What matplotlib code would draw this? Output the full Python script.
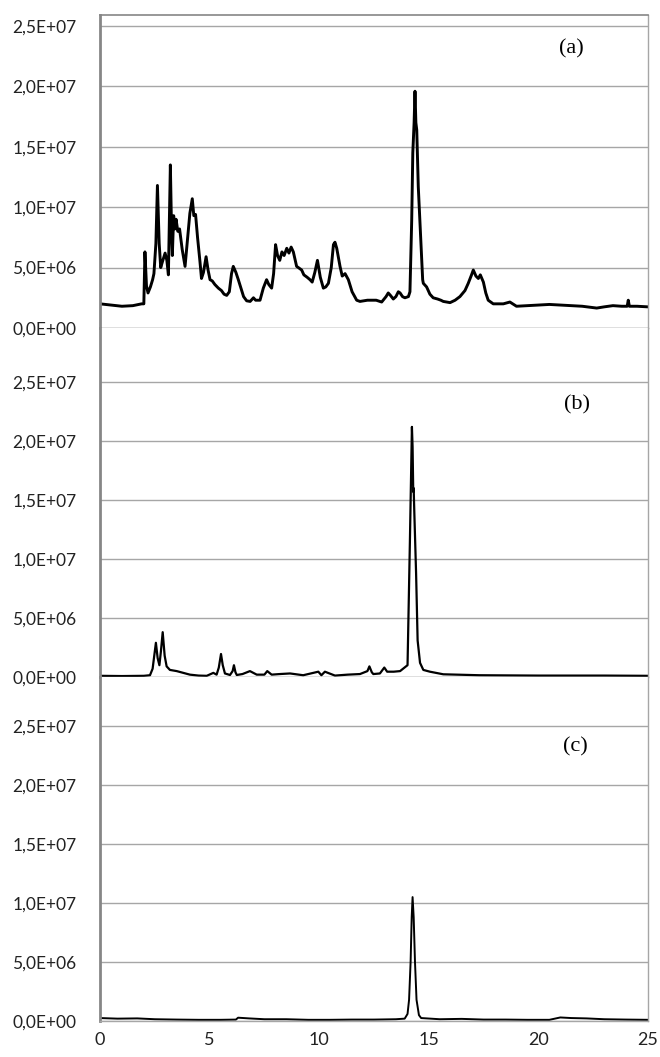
import matplotlib
matplotlib.use("Agg")
import matplotlib.pyplot as plt
from matplotlib.ticker import FuncFormatter

# ---- data (time in min, intensity in 1e6 counts) ----
t_a = [0.0, 0.5, 1.0, 1.5, 1.9, 2.0, 2.05, 2.12, 2.19, 2.3, 2.4, 2.46, 2.55, 2.62, 2.7, 2.77,
       2.85, 2.97, 3.05, 3.12, 3.21, 3.27, 3.30, 3.36, 3.42, 3.47, 3.55, 3.63, 3.75, 3.88, 4.0,
       4.1, 4.21, 4.28, 4.36, 4.45, 4.56, 4.63, 4.72, 4.84, 4.93, 5.02, 5.12, 5.24, 5.4, 5.54,
       5.66, 5.78, 5.9, 6.0, 6.08, 6.2, 6.31, 6.45, 6.55, 6.69, 6.85, 7.0, 7.1, 7.3, 7.45, 7.6,
       7.7, 7.83, 7.92, 8.01, 8.1, 8.2, 8.3, 8.4, 8.52, 8.62, 8.72, 8.82, 8.97, 9.05, 9.2, 9.3,
       9.45, 9.58, 9.68, 9.8, 9.92, 10.05, 10.19, 10.3, 10.42, 10.55, 10.65, 10.72, 10.8, 10.95,
       11.05, 11.18, 11.33, 11.5, 11.71, 11.86, 12.2, 12.6, 12.85, 13.05, 13.15, 13.25, 13.38,
       13.5, 13.61, 13.69, 13.8, 13.91, 14.07, 14.14, 14.22, 14.27, 14.33, 14.37, 14.41, 14.45,
       14.52, 14.63, 14.72, 14.75, 14.9, 15.05, 15.2, 15.4, 15.55, 15.66, 15.97, 16.2, 16.42,
       16.65, 16.8, 16.95, 17.03, 17.15, 17.26, 17.35, 17.49, 17.6, 17.71, 17.94, 18.4, 18.7,
       19.0, 19.5, 20.0, 20.5, 21.0, 21.5, 22.0, 22.66, 23.0, 23.4, 23.8, 24.05, 24.1, 24.15,
       24.5, 25.0]
i_a = [2.0, 1.9, 1.8, 1.85, 2.0, 2.0, 6.3, 3.5, 2.9, 3.4, 4.0, 4.5, 7.0, 11.8, 7.0, 5.0,
       5.5, 6.2, 5.6, 4.4, 13.5, 7.5, 6.0, 9.3, 8.2, 9.0, 8.0, 8.2, 6.5, 5.1, 7.5,
       9.5, 10.7, 9.3, 9.4, 7.5, 5.5, 4.1, 4.6, 5.9, 4.8, 4.0, 3.9, 3.6, 3.3, 3.1,
       2.8, 2.7, 3.0, 4.5, 5.1, 4.6, 4.0, 3.2, 2.6, 2.25, 2.2, 2.5, 2.3, 2.3, 3.3, 4.0,
       3.6, 3.3, 4.5, 6.9, 6.0, 5.6, 6.3, 6.0, 6.6, 6.2, 6.7, 6.3, 5.1, 5.0, 4.8, 4.4,
       4.2, 4.0, 3.8, 4.6, 5.6, 4.2, 3.3, 3.4, 3.7, 5.0, 6.9, 7.1, 6.6, 5.1,
       4.3, 4.5, 4.0, 3.0, 2.3, 2.2, 2.3, 2.3, 2.15, 2.6, 2.9, 2.7, 2.4,
       2.6, 3.0, 2.9, 2.6, 2.5, 2.6, 3.0, 8.9, 14.5, 17.0, 19.6, 17.0, 16.4,
       11.7, 7.5, 4.0, 3.7, 3.4, 2.8, 2.5, 2.4, 2.3, 2.2, 2.1, 2.3, 2.6,
       3.1, 3.7, 4.4, 4.8, 4.3, 4.1, 4.4, 3.8, 2.9, 2.3, 2.0, 2.0, 2.15,
       1.8, 1.85, 1.9, 1.95, 1.9, 1.85, 1.8, 1.65, 1.75, 1.85, 1.8, 1.8, 2.3, 1.8,
       1.8, 1.75]

t_b = [0, 1, 2, 2.28, 2.4, 2.55, 2.63, 2.71, 2.78, 2.86, 2.95, 3.04, 3.19, 3.5, 3.8, 4.1,
       4.5, 4.87, 5.17, 5.32, 5.42, 5.52, 5.6, 5.7, 5.93, 6.05, 6.11, 6.18, 6.24, 6.5, 6.84,
       7.15, 7.5, 7.63, 7.83, 8.2, 8.67, 9.27, 9.96, 10.1, 10.26, 10.72, 11.3, 11.86, 12.2,
       12.29, 12.4, 12.47, 12.77, 12.97, 13.1, 13.4, 13.69, 13.96, 14.03, 14.14, 14.23, 14.26,
       14.29, 14.31, 14.34, 14.42, 14.49, 14.6, 14.75, 15.05, 15.66, 17.3, 20, 23, 25]
i_b = [0.1, 0.08, 0.1, 0.15, 0.7, 2.9, 1.6, 1.0, 2.2, 3.8, 1.8, 0.9, 0.6, 0.5, 0.35, 0.2,
       0.12, 0.1, 0.35, 0.2, 0.8, 1.95, 1.0, 0.3, 0.17, 0.5, 1.0, 0.4, 0.17, 0.25, 0.5,
       0.2, 0.2, 0.5, 0.2, 0.25, 0.3, 0.15, 0.45, 0.15, 0.45, 0.12, 0.2, 0.25, 0.5,
       0.9, 0.4, 0.25, 0.3, 0.8, 0.45, 0.45, 0.5, 0.9, 1.0, 11.7, 21.2, 19.5,
       15.7, 16.0, 13.9, 8.8, 3.1, 1.2, 0.6, 0.45, 0.23, 0.15, 0.12, 0.12, 0.1]

t_c = [0, 0.8, 1.7, 2.5, 3.5, 4.5, 5.5, 6.2, 6.3, 6.8, 7.5, 8.5, 9.5, 10.5, 11.5, 12.5,
       13.5, 13.9, 14.03, 14.1, 14.17, 14.22, 14.26, 14.31, 14.37, 14.44, 14.55, 14.65,
       15.5, 16.5, 17.5, 18.5, 19.5, 20.5, 21.0, 21.5, 22.2, 23, 24, 25]
i_c = [0.25, 0.2, 0.22, 0.15, 0.12, 0.1, 0.1, 0.12, 0.28, 0.22, 0.15, 0.15, 0.1, 0.1, 0.12, 0.12,
       0.15, 0.2, 0.6, 1.8, 5.0, 8.8, 10.5, 8.8, 5.0, 1.8, 0.5, 0.25,
       0.15, 0.18, 0.12, 0.12, 0.1, 0.1, 0.3, 0.25, 0.22, 0.15, 0.12, 0.1]

panel_labels = ["(a)", "(b)", "(c)"]
y_ticks = [0, 5e6, 1e7, 1.5e7, 2e7, 2.5e7]
x_ticks = [0, 5, 10, 15, 20, 25]

series = [(t_a, i_a), (t_b, i_b), (t_c, i_c)]

W, H = 660, 1057
fig = plt.figure(figsize=(W / 100, H / 100), dpi=100)

# pixel geometry: (top_px, bottom_px, ylim_top)
geom = [(15, 328, 2.591e7), (328, 677, 2.958e7), (677, 1021, 2.915e7)]
left_px, right_px = 100, 648
lws = [2.1, 1.6, 1.4]
label_pos = [(21.5, 23.1e6), (21.75, 23.05e6), (21.7, 23.2e6)]

def fmt(v, pos):
    return ("%.1E" % v).replace(".", ",")

tick_font = "Lato"
for k, ((top, bot, ytop), (tx, iy)) in enumerate(zip(geom, series)):
    ax = fig.add_axes([left_px / W, 1 - bot / H, (right_px - left_px) / W, (bot - top) / H])
    ax.plot(tx, [v * 1e6 for v in iy], color="black", lw=lws[k], solid_joinstyle="round")
    ax.set_xlim(0, 25)
    ax.set_ylim(0, ytop)
    ax.set_yticks(y_ticks)
    ax.yaxis.set_major_formatter(FuncFormatter(fmt))
    ax.grid(axis="y", color="#a6a6a6", lw=1.0)
    ax.set_axisbelow(True)
    ax.spines["left"].set_color("#868686")
    ax.spines["left"].set_linewidth(2.0)
    ax.spines["right"].set_color("#a6a6a6")
    ax.spines["right"].set_linewidth(1.0)
    ax.spines["top"].set_visible(k == 0)
    ax.spines["top"].set_color("#868686")
    ax.spines["top"].set_linewidth(1.2)
    ax.spines["bottom"].set_color("#a6a6a6")
    ax.spines["bottom"].set_linewidth(1.0)
    ax.tick_params(axis="y", length=0, pad=17, labelsize=12.5, labelcolor="#222222")
    for lab in ax.get_yticklabels():
        lab.set_fontfamily(tick_font)
    ax.set_xticks(x_ticks)
    if k == 2:
        ax.tick_params(axis="x", length=0, pad=8, labelsize=13, labelcolor="#222222")
        for lab in ax.get_xticklabels():
            lab.set_fontfamily(tick_font)
    else:
        ax.tick_params(axis="x", length=0, labelbottom=False)
    ax.text(label_pos[k][0], label_pos[k][1], panel_labels[k], fontsize=16,
            fontfamily="Liberation Serif", ha="center", va="center")

fig.savefig("out.png", dpi=100)
